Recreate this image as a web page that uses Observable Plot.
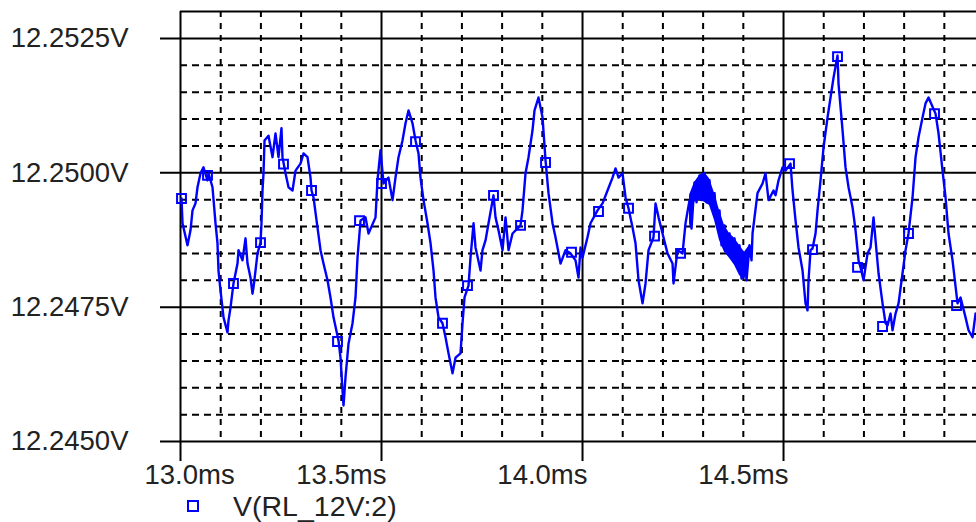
<!DOCTYPE html>
<html>
<head>
<meta charset="utf-8">
<script src="https://cdn.jsdelivr.net/npm/d3@7"></script>
<script src="https://cdn.jsdelivr.net/npm/@observablehq/plot@0.6"></script>
<style>
  body { margin: 0; background: #fff; font-family: "Liberation Sans", Arial, sans-serif; }
  #legend { height: 32px; display: flex; align-items: center; font-size: 28.5px; color: #222; }
  #legend .swatch { box-sizing: border-box; width: 12px; height: 12px; border: 2px solid #0000ff; margin-left: 187px; margin-right: 34px; }
</style>
</head>
<body>
<div id="chart"></div>
<div id="legend"><span class="swatch"></span><span id="legend-label"></span></div>
<script>
// Transient voltage across RL_12V, node 2 (time in ms, voltage in V)
const timeMs = [
  13.0025, 13.0050, 13.0174, 13.0249, 13.0299, 13.0373, 13.0423, 13.0498, 13.0572, 13.0672,
  13.0697, 13.0796, 13.0871, 13.0920, 13.0945, 13.0995, 13.1070, 13.1169, 13.1194, 13.1244,
  13.1318, 13.1418, 13.1443, 13.1542, 13.1617, 13.1667, 13.1741, 13.1791, 13.1816, 13.1866,
  13.1915, 13.1990, 13.2015, 13.2040, 13.2065, 13.2090, 13.2189, 13.2289, 13.2363, 13.2438,
  13.2512, 13.2537, 13.2612, 13.2687, 13.2786, 13.2861, 13.2985, 13.3060, 13.3159, 13.3234,
  13.3259, 13.3309, 13.3408, 13.3483, 13.3557, 13.3657, 13.3731, 13.3806, 13.3930, 13.3980,
  13.4030, 13.4055, 13.4104, 13.4179, 13.4279, 13.4353, 13.4403, 13.4478, 13.4602, 13.4677,
  13.4851, 13.4900, 13.4975, 13.5050, 13.5174, 13.5274, 13.5348, 13.5423, 13.5522, 13.5597,
  13.5672, 13.5771, 13.5846, 13.5920, 13.5970, 13.6045, 13.6144, 13.6219, 13.6294, 13.6343,
  13.6418, 13.6517, 13.6592, 13.6667, 13.6766, 13.6841, 13.6965, 13.7015, 13.7065, 13.7164,
  13.7214, 13.7289, 13.7338, 13.7463, 13.7512, 13.7587, 13.7662, 13.7786, 13.7836, 13.7910,
  13.8010, 13.8085, 13.8159, 13.8259, 13.8458, 13.8507, 13.8582, 13.8657, 13.8756, 13.8806,
  13.8905, 13.9005, 13.9080, 13.9154, 13.9254, 13.9328, 13.9453, 13.9577, 13.9701, 13.9826,
  13.9900, 13.9950, 14.0000, 14.0124, 14.0199, 14.0373, 14.0498, 14.0622, 14.0746, 14.0821,
  14.0896, 14.0995, 14.1070, 14.1144, 14.1244, 14.1318, 14.1393, 14.1493, 14.1567, 14.1642,
  14.1766, 14.1816, 14.1891, 14.1990, 14.2114, 14.2239, 14.2264, 14.2363, 14.2488, 14.2562,
  14.2662, 14.2711, 14.2786, 14.2836, 14.2910, 14.2960, 14.3035, 14.3085, 14.3159, 14.3209,
  14.3284, 14.3333, 14.3408, 14.3458, 14.3532, 14.3582, 14.3657, 14.3706, 14.3781, 14.3831,
  14.3905, 14.3955, 14.4030, 14.4080, 14.4154, 14.4204, 14.4229, 14.4353, 14.4478, 14.4552,
  14.4627, 14.4751, 14.4801, 14.4876, 14.4975, 14.5050, 14.5174, 14.5224, 14.5299, 14.5373,
  14.5473, 14.5547, 14.5597, 14.5622, 14.5672, 14.5721, 14.5796, 14.5846, 14.5920, 14.5995,
  14.6095, 14.6169, 14.6244, 14.6343, 14.6368, 14.6468, 14.6542, 14.6617, 14.6716, 14.6791,
  14.6866, 14.6915, 14.6990, 14.7090, 14.7164, 14.7239, 14.7289, 14.7363, 14.7463, 14.7537,
  14.7587, 14.7662, 14.7711, 14.7786, 14.7861, 14.7960, 14.8035, 14.8109, 14.8209, 14.8284,
  14.8358, 14.8458, 14.8532, 14.8607, 14.8781, 14.8856, 14.8955, 14.9030, 14.9104, 14.9204,
  14.9328, 14.9403, 14.9527, 14.9602, 14.9701, 14.9776
];
const volts = [
  12.24952, 12.24906, 12.24865, 12.24893, 12.24930, 12.24943, 12.24973, 12.24999, 12.25010, 12.24986,
  12.24999, 12.24973, 12.24906, 12.24869, 12.24818, 12.24781, 12.24731, 12.24703, 12.24725, 12.24749,
  12.24794, 12.24831, 12.24856, 12.24837, 12.24878, 12.24831, 12.24805, 12.24775, 12.24787, 12.24818,
  12.24850, 12.24870, 12.24906, 12.24967, 12.24999, 12.25060, 12.25069, 12.25029, 12.25073, 12.25029,
  12.25083, 12.25029, 12.24999, 12.24973, 12.24967, 12.25004, 12.25017, 12.25036, 12.25029, 12.24991,
  12.24967, 12.24954, 12.24898, 12.24856, 12.24831, 12.24800, 12.24768, 12.24731, 12.24688, 12.24656,
  12.24595, 12.24567, 12.24619, 12.24682, 12.24720, 12.24768, 12.24842, 12.24911, 12.24917, 12.24887,
  12.24917, 12.24986, 12.25042, 12.24980, 12.24991, 12.24949, 12.24991, 12.25029, 12.25060, 12.25092,
  12.25116, 12.25092, 12.25060, 12.25036, 12.24991, 12.24949, 12.24906, 12.24869, 12.24818, 12.24768,
  12.24731, 12.24720, 12.24694, 12.24664, 12.24627, 12.24656, 12.24664, 12.24720, 12.24768, 12.24790,
  12.24842, 12.24906, 12.24861, 12.24818, 12.24856, 12.24874, 12.24906, 12.24958, 12.24917, 12.24893,
  12.24856, 12.24917, 12.24856, 12.24887, 12.24902, 12.24930, 12.24999, 12.25029, 12.25079, 12.25116,
  12.25140, 12.25103, 12.25023, 12.24962, 12.24906, 12.24880, 12.24831, 12.24856, 12.24850, 12.24837,
  12.24805, 12.24861, 12.24842, 12.24880, 12.24906, 12.24930, 12.24943, 12.24967, 12.24991, 12.25008,
  12.24991, 12.24999, 12.24954, 12.24934, 12.24898, 12.24869, 12.24800, 12.24757, 12.24794, 12.24856,
  12.24880, 12.24943, 12.24917, 12.24887, 12.24850, 12.24831, 12.24794, 12.24856, 12.24850, 12.24906,
  12.24949, 12.24896, 12.24982, 12.24945, 12.24995, 12.24949, 12.24999, 12.24945, 12.24986, 12.24939,
  12.24962, 12.24911, 12.24930, 12.24865, 12.24902, 12.24852, 12.24887, 12.24841, 12.24878, 12.24828,
  12.24865, 12.24803, 12.24846, 12.24800, 12.24865, 12.24837, 12.24887, 12.24962, 12.24980, 12.24999,
  12.24949, 12.24967, 12.24958, 12.24986, 12.25010, 12.25004, 12.25017, 12.24967, 12.24911, 12.24861,
  12.24818, 12.24757, 12.24744, 12.24800, 12.24856, 12.24859, 12.24887, 12.24930, 12.24986, 12.25047,
  12.25103, 12.25140, 12.25177, 12.25218, 12.25166, 12.25079, 12.25010, 12.24973, 12.24936, 12.24893,
  12.24837, 12.24824, 12.24800, 12.24850, 12.24861, 12.24917, 12.24874, 12.24813, 12.24757, 12.24720,
  12.24716, 12.24738, 12.24707, 12.24738, 12.24757, 12.24813, 12.24856, 12.24887, 12.24954, 12.25029,
  12.25066, 12.25103, 12.25129, 12.25140, 12.25110, 12.25073, 12.25004, 12.24954, 12.24887, 12.24837,
  12.24757, 12.24768, 12.24731, 12.24707, 12.24694, 12.24738
];

// Ripple envelope of the densely switching stretch near 14.3 ms
const bandTimeMs = [14.2662, 14.2786, 14.2910, 14.3035, 14.3159, 14.3284, 14.3408, 14.3532, 14.3657, 14.3781, 14.3905, 14.4030, 14.4154];
const bandUpper  = [12.24958, 12.24982, 12.24995, 12.25001, 12.24989, 12.24962, 12.24930, 12.24902, 12.24887, 12.24878, 12.24865, 12.24852, 12.24865];
const bandLower  = [12.24896, 12.24945, 12.24949, 12.24945, 12.24939, 12.24911, 12.24874, 12.24852, 12.24841, 12.24828, 12.24809, 12.24800, 12.24833];

// Trace markers (open squares)
const markerTimeMs = [
  13.0025, 13.0672, 13.1318, 13.1990, 13.2562, 13.3259, 13.3906, 13.4453, 13.5000, 13.5846,
  13.6517, 13.7139, 13.7786, 13.8458, 13.9080, 13.9726, 14.0398, 14.1144, 14.1791, 14.2438,
  14.5149, 14.5721, 14.6343, 14.6841, 14.7463, 14.8109, 14.8756, 14.9304
];
const markerVolts = [
  12.24952, 12.24995, 12.24794, 12.24870, 12.25016, 12.24967, 12.24686, 12.24911, 12.24980, 12.25058,
  12.24720, 12.24790, 12.24958, 12.24902, 12.25019, 12.24852, 12.24928, 12.24934, 12.24882, 12.24850,
  12.25017, 12.24857, 12.25216, 12.24824, 12.24714, 12.24887, 12.25110, 12.24753
];

const seriesName = "V(RL_12V:2)";

// Axis extents and grid
const xDomain = [13.0, 14.98];
const yDomain = [12.2450, 12.2530];
const xMajorTicks = [13.0, 13.5, 14.0, 14.5];
const xMinorTicks = [13.1, 13.2, 13.3, 13.4, 13.6, 13.7, 13.8, 13.9, 14.1, 14.2, 14.3, 14.4, 14.6, 14.7, 14.8, 14.9];
const yMajorTicks = [12.2450, 12.2475, 12.2500, 12.2525];
const yMinorTicks = [12.2455, 12.2460, 12.2465, 12.2470, 12.2480, 12.2485, 12.2490, 12.2495,
                     12.2505, 12.2510, 12.2515, 12.2520];

const ink = "#000";
const textInk = "#222";
const traceBlue = "#0000ff";
const labelSize = 27.5;

const trace = timeMs.map((t, i) => ({t, v: volts[i]}));
const band = bandTimeMs.map((t, i) => ({t, hi: bandUpper[i], lo: bandLower[i]}));
const markers = markerTimeMs.map((t, i) => ({t, v: markerVolts[i]}));

const chart = Plot.plot({
  width: 976,
  height: 490,
  marginLeft: 180,
  marginRight: 0,
  marginTop: 11,
  marginBottom: 49,
  x: {domain: xDomain, axis: null},
  y: {domain: yDomain, axis: null},
  style: {fontFamily: "'Liberation Sans', Arial, sans-serif", fontSize: "25px", background: "#fff", overflow: "visible"},
  marks: [
    // dashed minor grid
    Plot.ruleX(xMinorTicks, {stroke: ink, strokeWidth: 2, strokeDasharray: "6,6"}),
    Plot.ruleY(yMinorTicks, {stroke: ink, strokeWidth: 2, strokeDasharray: "7,5"}),
    // solid major grid, extending past the frame as tick marks
    Plot.ruleY(yMajorTicks, {stroke: ink, strokeWidth: 2, insetLeft: -20}),
    Plot.ruleX(xMajorTicks, {stroke: ink, strokeWidth: 2, insetBottom: -20}),
    Plot.ruleY([yDomain[1]], {stroke: ink, strokeWidth: 2}),
    // tick labels
    Plot.text(yMajorTicks, {
      y: d => d, frameAnchor: "left", textAnchor: "end", dx: -52,
      text: d => d.toFixed(4) + "V", fill: textInk, fontSize: labelSize
    }),
    Plot.text(xMajorTicks.slice(0, 1), {
      x: d => d, frameAnchor: "bottom", textAnchor: "start", lineAnchor: "top", dx: -36, dy: 23,
      text: d => d.toFixed(1) + "ms", fill: textInk, fontSize: labelSize
    }),
    Plot.text(xMajorTicks.slice(1), {
      x: d => d, frameAnchor: "bottom", textAnchor: "end", lineAnchor: "top", dx: 5, dy: 23,
      text: d => d.toFixed(1) + "ms", fill: textInk, fontSize: labelSize
    }),
    // waveform
    Plot.areaY(band, {x: "t", y1: "lo", y2: "hi", fill: traceBlue}),
    Plot.line(trace, {x: "t", y: "v", stroke: traceBlue, strokeWidth: 2.4, curve: "linear"}),
    Plot.dot(markers, {x: "t", y: "v", symbol: "square", r: 5, stroke: traceBlue, strokeWidth: 2, fill: "none"})
  ]
});

document.getElementById("chart").append(chart);
document.getElementById("legend-label").textContent = seriesName;
</script>
</body>
</html>
